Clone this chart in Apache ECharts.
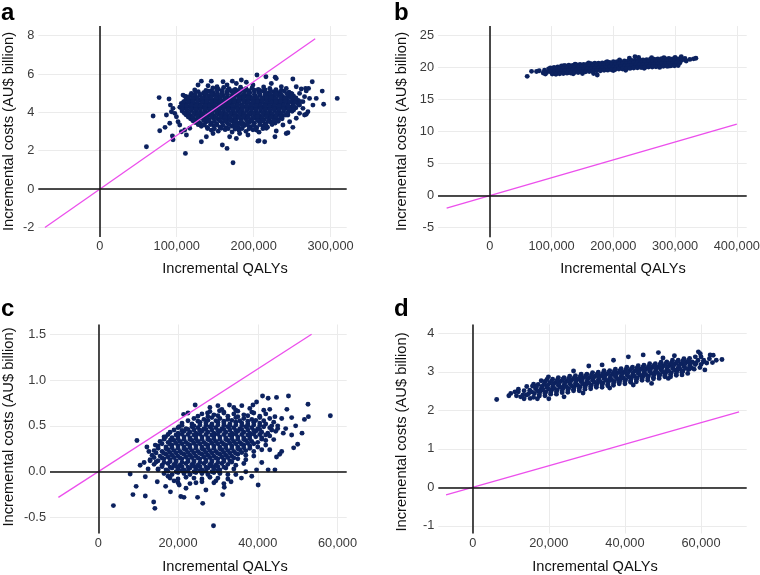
<!DOCTYPE html>
<html><head><meta charset="utf-8">
<script src="https://cdn.jsdelivr.net/npm/echarts@6/dist/echarts.min.js"></script>
<style>html,body{margin:0;padding:0;background:#fff}#c{width:760px;height:575px}</style>
</head><body><div id="c"></div>
<script>
// Incremental QALYs in thousands, incremental costs in AU$ billion
const aFringe = [[60.6,2.21],[69.3,3.81],[77.1,4.77],[77.9,3.04],[84.8,3.22],[90,4.7],[91.8,4.38],[94.4,2.77],[95.2,2.57],[111.3,1.86],[110.4,4.85],[132,5.63],[145,5.63],[159.3,2.3],[165.4,2.12],[173.2,1.37],[204.3,5.95],[229.4,5.77],[251,5.74],[276.2,5.6],[289.2,5.11],[291,4.42],[308.7,4.73],[216,5.86],[228,5.83],[267.5,5.25],[268.4,3.9],[251,3.22],[244.6,2.94],[227.7,2.73],[207,2.52],[214.3,2.47],[177.5,2.64],
[160.2,5.6],[172.3,5.63],[184,5.69],[152.4,5.34],[165.4,5.43],[177.5,5.51],[190.5,5.57],[199.1,5.43],[223,5.51],[236,5.34],[242.4,5.25],[255.4,5.34],[261.9,5.22],[268.4,5.12],[271.4,5.25],[259.7,4.99],[266.2,4.82],[272.7,4.73],[123.4,5.17],[127.7,5.43],[140.7,5.39],[108.2,4.9],[112.6,4.82],[119,4.99],
[93.1,4.03],[86.6,3.86],[95.2,4.21],[97.4,3.95],[99.6,3.77],[90.9,3.43],[101.7,3.51],[103.9,3.34],[106.1,2.99],[110.4,3.08],[112.6,2.82],[116.9,3.17],
[132,2.47],[138.5,2.73],[147.2,2.9],[168.8,2.73],[181.8,2.9],[192.6,2.82],[205.6,2.5],[203.5,3.08],[216.5,3.17],[229.4,3.03],[242.4,2.9],[238.1,3.34],[246.8,3.51],[255.4,3.69],[264.1,4.21],[259.7,3.95],[244.6,3.86],
[277.1,4.38],[270.6,4.03],[266.2,3.86],[259.7,4.38],[255.4,4.56],[281.4,4.73],[249,4.99],[264.1,4.56]];
const aCore = [[147,5.28],[154,5.21],[161,5.3],[168,5.24],[176,5.19],[183,5.31],[190,5.23],[198,5.27],[206,5.2],[213,5.32],[221,5.25],[229,5.18],
[128,5.08],[135,5.02],[141,5.1],[147,5.04],[153,5.0],[159,5.09],[165,5.03],[171,5.1],[177,5.01],[183,5.07],[189,5.12],[195,5.02],[201,5.08],[207,5.04],[213,5.1],[219,5.0],[226,5.07],[233,5.03],[240,5.11],[246,5.05],
[118,4.88],[124,4.83],[130,4.9],[136,4.82],[142,4.87],[148,4.92],[154,4.84],[160,4.89],[166,4.81],[172,4.86],[178,4.91],[184,4.83],[190,4.88],[196,4.8],[202,4.86],[208,4.9],[214,4.82],[220,4.87],[226,4.84],[232,4.89],[238,4.81],[245,4.86],[252,4.84],
[112,4.68],[118,4.62],[124,4.7],[130,4.64],[136,4.6],[142,4.69],[148,4.63],[154,4.67],[160,4.61],[166,4.7],[172,4.64],[178,4.6],[184,4.68],[190,4.62],[196,4.7],[202,4.65],[208,4.61],[214,4.69],[220,4.63],[226,4.67],[232,4.6],[238,4.68],[244,4.64],[251,4.66],[258,4.62],
[106,4.47],[112,4.42],[118,4.5],[124,4.44],[130,4.4],[136,4.48],[142,4.43],[148,4.51],[154,4.45],[160,4.41],[166,4.49],[172,4.43],[178,4.47],[184,4.4],[190,4.5],[196,4.44],[202,4.42],[208,4.48],[214,4.45],[220,4.41],[226,4.49],[232,4.43],[238,4.47],[244,4.42],[251,4.48],[258,4.44],
[104,4.27],[110,4.22],[116,4.3],[122,4.24],[128,4.2],[134,4.28],[140,4.23],[146,4.31],[152,4.25],[158,4.21],[164,4.29],[170,4.23],[176,4.27],[182,4.2],[188,4.3],[194,4.24],[200,4.22],[206,4.28],[212,4.25],[218,4.21],[224,4.29],[230,4.23],[236,4.27],[242,4.22],[248,4.28],[255,4.24],
[107,4.07],[113,4.02],[119,4.1],[125,4.04],[131,4.0],[137,4.08],[143,4.03],[149,4.11],[155,4.05],[161,4.01],[167,4.09],[173,4.03],[179,4.07],[185,4.0],[191,4.1],[197,4.04],[203,4.02],[209,4.08],[215,4.05],[221,4.01],[227,4.09],[233,4.03],[239,4.07],[245,4.02],[250,4.06],
[112,3.87],[118,3.82],[124,3.9],[130,3.84],[136,3.8],[142,3.88],[148,3.83],[154,3.91],[160,3.85],[166,3.81],[172,3.89],[178,3.83],[184,3.87],[190,3.8],[196,3.9],[202,3.84],[208,3.82],[214,3.88],[220,3.85],[226,3.81],[232,3.89],[238,3.83],[242,3.86],
[118,3.67],[124,3.62],[130,3.7],[136,3.64],[142,3.6],[148,3.68],[154,3.63],[160,3.71],[166,3.65],[172,3.61],[178,3.69],[184,3.63],[190,3.67],[196,3.6],[202,3.7],[208,3.64],[214,3.62],[220,3.68],[226,3.65],[232,3.61],[237,3.67],
[124,3.47],[131,3.42],[138,3.5],[145,3.44],[152,3.4],[159,3.48],[166,3.43],[173,3.51],[180,3.45],[187,3.41],[194,3.49],[201,3.43],[208,3.47],[215,3.4],[222,3.5],[228,3.44],
[132,3.27],[140,3.22],[148,3.3],[156,3.24],[164,3.2],[172,3.28],[180,3.23],[188,3.31],[196,3.25],[204,3.21],[212,3.29],[218,3.23],
[145,3.07],[154,3.02],[163,3.1],[172,2.98],[181,3.06],[190,3.01],[199,3.09],[207,2.97]];
const aCoreInner = [[138,5.15],[145,5.13],[152,5.17],[159,5.14],[166,5.16],[173,5.13],[180,5.15],[187,5.17],[194,5.13],[201,5.16],[208,5.14],[215,5.17],[222,5.13],[229,5.15],[236,5.14],
[124,4.96],[131,4.94],[138,4.97],[145,4.95],[152,4.93],[159,4.96],[166,4.94],[173,4.97],[180,4.95],[187,4.93],[194,4.96],[201,4.94],[208,4.97],[215,4.95],[222,4.93],[229,4.96],[236,4.94],[243,4.97],[250,4.95],
[115,4.76],[121,4.74],[127,4.77],[133,4.75],[139,4.73],[145,4.76],[151,4.74],[157,4.77],[163,4.75],[169,4.73],[175,4.76],[181,4.74],[187,4.77],[193,4.75],[199,4.73],[205,4.76],[211,4.74],[217,4.77],[223,4.75],[229,4.73],[235,4.76],[241,4.74],[248,4.77],[255,4.75],
[109,4.56],[115,4.54],[121,4.57],[127,4.55],[133,4.53],[139,4.56],[145,4.54],[151,4.57],[157,4.55],[163,4.53],[169,4.56],[175,4.54],[181,4.57],[187,4.55],[193,4.53],[199,4.56],[205,4.54],[211,4.57],[217,4.55],[223,4.53],[229,4.56],[235,4.54],[241,4.57],[247,4.55],[254,4.53],[261,4.56],
[107,4.36],[113,4.34],[119,4.37],[125,4.35],[131,4.33],[137,4.36],[143,4.34],[149,4.37],[155,4.35],[161,4.33],[167,4.36],[173,4.34],[179,4.37],[185,4.35],[191,4.33],[197,4.36],[203,4.34],[209,4.37],[215,4.35],[221,4.33],[227,4.36],[233,4.34],[239,4.37],[245,4.35],[252,4.33],
[107,4.16],[113,4.14],[119,4.17],[125,4.15],[131,4.13],[137,4.16],[143,4.14],[149,4.17],[155,4.15],[161,4.13],[167,4.16],[173,4.14],[179,4.17],[185,4.15],[191,4.13],[197,4.16],[203,4.14],[209,4.17],[215,4.15],[221,4.13],[227,4.16],[233,4.14],[239,4.17],[246,4.15],[252,4.13],
[110,3.96],[116,3.94],[122,3.97],[128,3.95],[134,3.93],[140,3.96],[146,3.94],[152,3.97],[158,3.95],[164,3.93],[170,3.96],[176,3.94],[182,3.97],[188,3.95],[194,3.93],[200,3.96],[206,3.94],[212,3.97],[218,3.95],[224,3.93],[230,3.96],[236,3.94],[244,3.97],
[115,3.76],[121,3.74],[127,3.77],[133,3.75],[139,3.73],[145,3.76],[151,3.74],[157,3.77],[163,3.75],[169,3.73],[175,3.76],[181,3.74],[187,3.77],[193,3.75],[199,3.73],[205,3.76],[211,3.74],[217,3.77],[223,3.75],[229,3.73],[235,3.76],
[121,3.56],[128,3.54],[135,3.57],[142,3.55],[149,3.53],[156,3.56],[163,3.54],[170,3.57],[177,3.55],[184,3.53],[191,3.56],[198,3.54],[205,3.57],[212,3.55],[219,3.53],[226,3.56],[232,3.54],
[128,3.36],[136,3.34],[144,3.37],[152,3.35],[160,3.33],[168,3.36],[176,3.34],[184,3.37],[192,3.35],[200,3.33],[208,3.36],[216,3.34],[224,3.37],
[140,3.16],[149,3.14],[158,3.17],[167,3.15],[176,3.13],[185,3.16],[194,3.14],[203,3.17],[212,3.15]];

const bFringe = [[60.5,18.65],[67.5,19.43],[75.6,19.4],[79.9,19.52],[86.4,19.17],[88.5,19.6],[92,19.25],[95,19.8],[90,19.0],[174,18.85],[168,19.1],[150,19.1],[135,19.05],[120,20.3],[138,20.55],[160,20.75],[190,20.95],[210,21.2],[235,21.72],[241,21.6],[226,21.5],[262,21.55],[282,21.58],[300,21.6],[310,21.72],[316,21.45],[318,21.05],[324,21.3],[330,21.38],[333.7,21.48],[250,19.9],[220,19.6],[275,20.05],[290,20.25],[200,19.55]];
const bCore = [[98,19.95],[104,20.02],[110,20.12],[116,20.26],[122,20.32],[128,20.39],[134,20.36],[140,20.46],[146,20.5],[152,20.52],[158,20.6],[164,20.61],[170,20.69],[176,20.7],[182,20.76],[188,20.83],[194,20.83],[200,20.92],[206,20.93],[212,20.97],[218,21.05],[224,21.06],[230,21.13],[236,21.15],[242,21.22],[248,21.22],[254,21.26],[260,21.32],[266,21.31],[272,21.38],[278,21.4],[284,21.41],[290,21.44],[296,21.38],[302,21.4],[308,21.42],
[101,19.78],[107,19.8],[113,19.86],[119,19.9],[125,19.93],[131,20.0],[137,20.02],[143,20.08],[149,20.1],[155,20.17],[161,20.2],[167,20.24],[173,20.31],[179,20.33],[185,20.4],[191,20.42],[197,20.49],[203,20.51],[209,20.58],[215,20.6],[221,20.67],[227,20.69],[233,20.76],[239,20.79],[245,20.84],[251,20.85],[257,20.9],[263,20.91],[269,20.96],[275,20.97],[281,21.02],[287,21.03],[293,21.08],[299,21.09],[305,21.15],[311,21.18],
[98,19.35],[104,19.36],[110,19.43],[116,19.46],[122,19.53],[128,19.55],[134,19.61],[140,19.64],[146,19.71],[152,19.73],[158,19.79],[164,19.82],[170,19.88],[176,19.91],[182,19.97],[188,20.0],[194,20.06],[200,20.09],[206,20.15],[212,20.18],[218,20.24],[224,20.27],[230,20.33],[236,20.36],[242,20.42],[248,20.43],[254,20.48],[260,20.49],[266,20.54],[272,20.55],[278,20.61],[284,20.62],[290,20.67],[296,20.68],[302,20.73],[308,20.76],
[101,19.0],[107,18.98],[113,19.06],[119,19.08],[125,19.15],[131,19.17],[137,19.24],[143,19.26],[149,19.33],[155,19.35],[161,19.41],[167,19.44],[173,19.51],[179,19.53],[185,19.6],[191,19.62],[197,19.69],[203,19.71],[209,19.78],[215,19.8],[221,19.87],[227,19.89],[233,19.96],[239,19.99],[245,20.04],[251,20.05],[257,20.1],[263,20.11],[269,20.16],[275,20.17],[281,20.22],[287,20.23],[293,20.28],[299,20.29],[305,20.35]];

const cFringe = [[9.7,0.34],[12.2,0.27],[12.7,0.22],[14.3,0.29],[16.9,0.38],[18.1,0.345],[20.3,0.49],[21.4,0.625],[22.5,0.64],[24.3,0.727],[27.4,0.64],[30,0.72],[30.4,0.665],[32.9,0.727],[38.8,0.727],[39.7,0.76],[41.2,0.825],[42.6,0.8],[44.7,0.81],[47.7,0.825],[47.3,0.68],[48.5,0.59],[49.5,0.5],[51.1,0.42],[50,0.3],[51.7,0.57],[52.6,0.735],[58.2,0.61],[52.7,0.6],[46.4,0.42],[44.3,0.6],[46,0.22],[44.7,0.16],[45.5,0.19],[44.3,0.02],[42.6,0.02],[39.7,0.02],[40.1,-0.145],[35.9,-0.07],[33.3,-0.11],[31.6,-0.17],[31.2,-0.25],[28.9,-0.59],[26.2,-0.345],[24.9,-0.28],[21.5,-0.28],[20.7,-0.27],[20.3,-0.145],[18.1,-0.22],[16.9,-0.16],[14.8,-0.11],[13.9,-0.33],[14.2,-0.4],[11.8,-0.265],[8.7,-0.25],[9.5,-0.16],[8,-0.025],[3.8,-0.37],[11.8,-0.055],[12.5,0.03],[11.5,0.1],[13,0.12],[45,0.5],[46,0.58],[43,0.68],[47,0.47],[48.5,0.4],[49,0.26],[44,0.35],[36,0.72],[34,0.7],[28,0.7],[25.5,0.45],[17.5,-0.05],[19,-0.1],[22,-0.18],[24.5,-0.12],[27,-0.2],[29.5,-0.1],[34.5,-0.03],[37,0.0],[38.5,-0.05],[41,0.1],[43,0.24],[15,0.02],[10.5,0.07]];
const cCore = [[31,0.68],[34.5,0.67],[38,0.69],[41.5,0.67],
[26,0.63],[29,0.62],[31.5,0.64],[34,0.63],[36.5,0.62],[39,0.64],[42,0.63],
[24,0.58],[26.5,0.57],[28.5,0.59],[30.5,0.58],[32.5,0.57],[34.5,0.59],[36.5,0.58],[38.5,0.57],[40.5,0.59],[43,0.58],
[21,0.53],[23.5,0.52],[25.5,0.54],[27,0.53],[28.5,0.52],[30,0.54],[31.5,0.53],[33,0.52],[34.5,0.54],[36,0.53],[37.5,0.52],[39,0.54],[40.5,0.53],[42,0.52],[44,0.54],
[20,0.48],[22,0.47],[23.5,0.49],[25,0.48],[26.5,0.47],[28,0.49],[29.5,0.48],[31,0.47],[32.5,0.49],[34,0.48],[35.5,0.47],[37,0.49],[38.5,0.48],[40,0.47],[41.5,0.49],[43,0.48],[45,0.47],
[18,0.43],[20,0.42],[21.5,0.44],[23,0.43],[24.5,0.42],[26,0.44],[27.5,0.43],[29,0.42],[30.5,0.44],[32,0.43],[33.5,0.42],[35,0.44],[36.5,0.43],[38,0.42],[39.5,0.44],[41,0.43],[42.5,0.42],[44.5,0.44],
[16.5,0.38],[18.5,0.37],[20,0.39],[21.5,0.38],[23,0.37],[24.5,0.39],[26,0.38],[27.5,0.37],[29,0.39],[30.5,0.38],[32,0.37],[33.5,0.39],[35,0.38],[36.5,0.37],[38,0.39],[39.5,0.38],[41,0.37],[43,0.39],
[15.5,0.33],[17.5,0.32],[19,0.34],[20.5,0.33],[22,0.32],[23.5,0.34],[25,0.33],[26.5,0.32],[28,0.34],[29.5,0.33],[31,0.32],[32.5,0.34],[34,0.33],[35.5,0.32],[37,0.34],[38.5,0.33],[40,0.32],[42,0.34],
[15,0.28],[17,0.27],[18.5,0.29],[20,0.28],[21.5,0.27],[23,0.29],[24.5,0.28],[26,0.27],[27.5,0.29],[29,0.28],[30.5,0.27],[32,0.29],[33.5,0.28],[35,0.27],[36.5,0.29],[38,0.28],[40,0.27],[42,0.29],
[14,0.23],[16,0.22],[17.5,0.24],[19,0.23],[20.5,0.22],[22,0.24],[23.5,0.23],[25,0.22],[26.5,0.24],[28,0.23],[29.5,0.22],[31,0.24],[32.5,0.23],[34,0.22],[35.5,0.24],[37,0.23],[39,0.22],[41,0.24],
[13.5,0.18],[15.5,0.17],[17,0.19],[18.5,0.18],[20,0.17],[21.5,0.19],[23,0.18],[24.5,0.17],[26,0.19],[27.5,0.18],[29,0.17],[30.5,0.19],[32,0.18],[33.5,0.17],[35,0.19],[37,0.18],[39,0.17],
[13,0.13],[15,0.12],[16.5,0.14],[18,0.13],[19.5,0.12],[21,0.14],[22.5,0.13],[24,0.12],[25.5,0.14],[27,0.13],[28.5,0.12],[30,0.14],[31.5,0.13],[33,0.12],[35,0.14],[37,0.13],
[14,0.08],[16,0.07],[17.5,0.09],[19,0.08],[20.5,0.07],[22,0.09],[23.5,0.08],[25,0.07],[26.5,0.09],[28,0.08],[29.5,0.07],[31,0.09],[32.5,0.08],[34.5,0.07],[36.5,0.09],
[15,0.03],[17,0.02],[18.5,0.04],[20,0.03],[21.5,0.02],[23,0.04],[24.5,0.03],[26,0.02],[27.5,0.04],[29,0.03],[30.5,0.02],[32,0.04],[34,0.03],
[16.5,-0.02],[18.5,-0.03],[20,-0.01],[21.5,-0.02],[23,-0.03],[24.5,-0.01],[26,-0.02],[27.5,-0.03],[29,-0.01],[30.5,-0.02],[32.5,-0.03],
[18,-0.07],[20,-0.08],[22,-0.06],[24,-0.07],[26,-0.08],[28,-0.06],[30,-0.07],[32.5,-0.08],
[20,-0.12],[23,-0.13],[26,-0.11],[29,-0.12],[31.5,-0.13]];
const cCoreInner = [[28,0.655],[31.5,0.65],[35,0.66],[38.5,0.65],
[25,0.605],[27.5,0.6],[30,0.61],[32.5,0.605],[35,0.6],[37.5,0.61],[40.5,0.605],
[22.5,0.555],[25,0.55],[27.5,0.56],[29.5,0.555],[31.5,0.55],[33.5,0.56],[35.5,0.555],[37.5,0.55],[39.5,0.56],[41.5,0.555],
[21,0.505],[24,0.5],[25.5,0.51],[27,0.505],[28.5,0.5],[30,0.51],[31.5,0.505],[33,0.5],[34.5,0.51],[36,0.505],[37.5,0.5],[39,0.51],[40.5,0.505],[43.5,0.5],
[19,0.455],[21,0.45],[22.5,0.46],[24,0.455],[25.5,0.45],[27,0.46],[28.5,0.455],[30,0.45],[31.5,0.46],[33,0.455],[34.5,0.45],[36,0.46],[37.5,0.455],[39,0.45],[40.5,0.46],[43.5,0.455],
[17.5,0.405],[19.5,0.4],[21,0.41],[22.5,0.405],[24,0.4],[25.5,0.41],[27,0.405],[28.5,0.4],[30,0.41],[31.5,0.405],[33,0.4],[34.5,0.41],[36,0.405],[37.5,0.4],[39,0.41],[40.5,0.405],[42,0.4],
[16.5,0.355],[18.5,0.35],[20,0.36],[21.5,0.355],[23,0.35],[24.5,0.36],[26,0.355],[27.5,0.35],[29,0.36],[30.5,0.355],[32,0.35],[33.5,0.36],[35,0.355],[36.5,0.35],[38,0.36],[41,0.355],
[16,0.305],[18,0.3],[19.5,0.31],[21,0.305],[22.5,0.3],[24,0.31],[25.5,0.305],[27,0.3],[28.5,0.31],[30,0.305],[31.5,0.3],[33,0.31],[34.5,0.305],[36,0.3],[37.5,0.31],[39,0.305],
[15,0.255],[17,0.25],[18.5,0.26],[20,0.255],[21.5,0.25],[23,0.26],[24.5,0.255],[26,0.25],[27.5,0.26],[29,0.255],[30.5,0.25],[32,0.26],[33.5,0.255],[35,0.25],[36.5,0.26],[38,0.255],
[14.5,0.205],[16.5,0.2],[18,0.21],[19.5,0.205],[21,0.2],[22.5,0.21],[24,0.205],[25.5,0.2],[27,0.21],[28.5,0.205],[30,0.2],[31.5,0.21],[33,0.205],[34.5,0.2],[36,0.21],
[14,0.155],[16,0.15],[17.5,0.16],[19,0.155],[20.5,0.15],[22,0.16],[23.5,0.155],[25,0.15],[26.5,0.16],[28,0.155],[29.5,0.15],[31,0.16],[32.5,0.155],[34,0.15],
[14.5,0.105],[16.5,0.1],[18,0.11],[19.5,0.105],[21,0.1],[22.5,0.11],[24,0.105],[25.5,0.1],[27,0.11],[28.5,0.105],[30,0.1],[31.5,0.11],[33.5,0.105],
[16,0.055],[18,0.05],[19.5,0.06],[21,0.055],[22.5,0.05],[24,0.06],[25.5,0.055],[27,0.05],[28.5,0.06],[30,0.055],[31.5,0.05],
[17.5,0.005],[19.5,0.0],[21,0.01],[22.5,0.005],[24,0.0],[25.5,0.01],[27,0.005],[28.5,0.0],[30,0.01]];

const dFringe = [[6.3,2.28],[10,2.44],[11.1,2.48],[12,2.55],[12.6,2.35],[14.2,2.4],[15.1,2.31],[9.5,2.38],[11.5,2.38],[13.5,2.3],[17,2.3],[20,2.3],[24,2.35],[62.4,3.44],[59.3,3.52],[59.8,3.47],[58.4,3.22],[60.6,3.26],[65.5,3.32],[63.2,3.43],[48.8,3.5],[40.9,3.39],[51.4,2.83],[44.8,3.44],[42.2,2.66],[37,3.3],[30.5,3.15],[26.5,3.02],[19.9,2.87],[55,2.98],[57,3.08],[61,3.05],[64,3.3],[53,3.42],[47,2.7],[36,2.58],[29,2.45],[19,2.75],[16,2.68],[34,3.18],[50,3.36]];
const dCore = [[12,2.48],[13.5,2.51],[15,2.52],[16.5,2.56],[18,2.56],[19.5,2.6],[21,2.61],[22.5,2.65],[24,2.65],[25.5,2.69],[27,2.7],[28.5,2.74],[30,2.74],[31.5,2.78],[33,2.79],[34.5,2.83],[36,2.83],[37.5,2.87],[39,2.88],[40.5,2.92],[42,2.92],[43.5,2.96],[45,2.97],[46.5,3.01],[48,3.01],[49.5,3.05],[51,3.06],[52.5,3.1],[54,3.1],[55.5,3.14],[57,3.15],[58.5,3.19],[60,3.19],[61.5,3.23],[63,3.24],
[14.2,2.62],[15.7,2.63],[17.2,2.67],[18.7,2.67],[20.2,2.71],[21.7,2.72],[23.2,2.76],[24.7,2.76],[26.2,2.8],[27.7,2.81],[29.2,2.85],[30.7,2.85],[32.2,2.89],[33.7,2.9],[35.2,2.94],[36.7,2.94],[38.2,2.98],[39.7,2.99],[41.2,3.03],[42.7,3.03],[44.2,3.07],[45.7,3.08],[47.2,3.12],[48.7,3.12],[50.2,3.16],[51.7,3.17],[53.2,3.21],[54.7,3.21],[56.2,3.25],[57.7,3.26],[59.2,3.3],[60.7,3.3],[62.2,3.34],
[18,2.77],[19.5,2.8],[21,2.81],[22.5,2.85],[24,2.85],[25.5,2.89],[27,2.9],[28.5,2.94],[30,2.94],[31.5,2.98],[33,2.99],[34.5,3.03],[36,3.03],[37.5,3.07],[39,3.08],[40.5,3.12],[42,3.12],[43.5,3.16],[45,3.17],[46.5,3.21],[48,3.21],[49.5,3.25],[51,3.26],[52.5,3.3],[54,3.3],[55.5,3.34],[57,3.35],[58.5,3.39],[60,3.39],
[13.2,2.4],[14.7,2.43],[16.2,2.44],[17.7,2.48],[19.2,2.48],[20.7,2.52],[22.2,2.53],[23.7,2.57],[25.2,2.57],[26.7,2.61],[28.2,2.62],[29.7,2.66],[31.2,2.66],[32.7,2.7],[34.2,2.71],[35.7,2.75],[37.2,2.75],[38.7,2.79],[40.2,2.8],[41.7,2.84],[43.2,2.84],[44.7,2.88],[46.2,2.89],[47.7,2.93],[49.2,2.93],[50.7,2.97],[52.2,2.98],[53.7,3.02],[55.2,3.02],[56.7,3.06],[58.2,3.07],[59.7,3.11],
[16,2.34],[17.5,2.37],[19,2.38],[20.5,2.42],[22,2.42],[23.5,2.46],[25,2.47],[26.5,2.51],[28,2.51],[29.5,2.55],[31,2.56],[32.5,2.6],[34,2.6],[35.5,2.64],[37,2.65],[38.5,2.69],[40,2.69],[41.5,2.73],[43,2.74],[44.5,2.78],[46,2.78],[47.5,2.82],[49,2.83],[50.5,2.87],[52,2.87],[53.5,2.91],[55,2.92],[56.5,2.96]];
const dCoreInner = [[16.7,2.6],[18.2,2.62],[19.7,2.65],[21.2,2.67],[22.7,2.69],[24.2,2.71],[25.7,2.74],[27.2,2.76],[28.7,2.78],[30.2,2.8],[31.7,2.83],[33.2,2.85],[34.7,2.87],[36.2,2.89],[37.7,2.92],[39.2,2.94],[40.7,2.96],[42.2,2.98],[43.7,3.01],[45.2,3.03],[46.7,3.05],[48.2,3.07],[49.7,3.1],[51.2,3.12],[52.7,3.14],[54.2,3.16],[55.7,3.19],[57.2,3.21],[58.7,3.23],
[15.5,2.48],[17,2.51],[18.5,2.53],[20,2.55],[21.5,2.57],[23,2.6],[24.5,2.62],[26,2.64],[27.5,2.66],[29,2.69],[30.5,2.71],[32,2.73],[33.5,2.75],[35,2.78],[36.5,2.8],[38,2.82],[39.5,2.84],[41,2.87],[42.5,2.89],[44,2.91],[45.5,2.93],[47,2.96],[48.5,2.98],[50,3.0],[51.5,3.02],[53,3.05],[54.5,3.07],[56,3.09],[57.5,3.11],
[20.7,2.76],[22.2,2.78],[23.7,2.81],[25.2,2.83],[26.7,2.85],[28.2,2.87],[29.7,2.9],[31.2,2.92],[32.7,2.94],[34.2,2.96],[35.7,2.99],[37.2,3.01],[38.7,3.03],[40.2,3.05],[41.7,3.08],[43.2,3.1],[44.7,3.12],[46.2,3.14],[47.7,3.17],[49.2,3.19],[50.7,3.21],[52.2,3.23],[53.7,3.26],[55.2,3.28],[56.7,3.3],
[17.5,2.41],[19,2.44],[20.5,2.46],[22,2.48],[23.5,2.5],[25,2.53],[26.5,2.55],[28,2.57],[29.5,2.59],[31,2.62],[32.5,2.64],[34,2.66],[35.5,2.68],[37,2.71],[38.5,2.73],[40,2.75],[41.5,2.77],[43,2.8],[44.5,2.82],[46,2.84],[47.5,2.86],[49,2.89],[50.5,2.91],[52,2.93],[53.5,2.95],[55,2.98]];

// Willingness-to-pay threshold line endpoints
const aThreshold = [[-71.4,-2],[280,7.84]];
const bThreshold = [[-70,-1.96],[400,11.2]];
const cThreshold = [[-10,-0.28],[53.5,1.498]];
const dThreshold = [[-7,-0.196],[70,1.96]];

// Tick values
const aXTicks = [0,100,200,300], aYTicks = [-2,0,2,4,6,8];
const bXTicks = [0,100,200,300,400], bYTicks = [-5,0,5,10,15,20,25];
const cXTicks = [0,20,40,60], cYTicks = [-0.5,0,0.5,1,1.5];
const dXTicks = [0,20,40,60], dYTicks = [-1,0,1,2,3,4];

const panelLabels = ['a','b','c','d'];
const xTitle = 'Incremental QALYs';
const yTitle = 'Incremental costs (AU$ billion)';

const FONT = '"Liberation Sans", Arial, Helvetica, sans-serif';
const NAVY = '#0c225f';
const MAGENTA = '#ec4fec';

const panels = [
  {pts: aFringe.concat(aCore, aCoreInner), line: aThreshold, xt: aXTicks, yt: aYTicks, xr: [-80, 321], yr: [-2.5, 8.5], yDec: 0,
   grid: {left: 38.3, top: 26.1, width: 308.4, height: 210.9}, lab: [1, 13], xT: [225, 268.5], yT: [9, 131.5]},
  {pts: bFringe.concat(bCore), line: bThreshold, xt: bXTicks, yt: bYTicks, xr: [-84, 416], yr: [-6.5, 26.5], yDec: 0,
   grid: {left: 438, top: 26.1, width: 308.7, height: 211.2}, lab: [394, 13], xT: [623, 268.5], yT: [402, 131.5]},
  {pts: cFringe.concat(cCore, cCoreInner), line: cThreshold, xt: cXTicks, yt: cYTicks, xr: [-12.1, 62.3], yr: [-0.674, 1.605], yDec: 1,
   grid: {left: 50, top: 324.5, width: 296.7, height: 209}, lab: [1, 309.5], xT: [225, 566.5], yT: [9, 427]},
  {pts: dFringe.concat(dCore, dCoreInner), line: dThreshold, xt: dXTicks, yt: dYTicks, xr: [-9.04, 72.0], yr: [-1.2, 4.23], yDec: 0,
   grid: {left: 438.3, top: 324.5, width: 308.4, height: 209}, lab: [394, 309.5], xT: [595, 567], yT: [402, 432]}
];

const grids = [], xAxes = [], yAxes = [], series = [], graphics = [];
panels.forEach((p, i) => {
  grids.push(Object.assign({outerBoundsMode: 'none', containLabel: false}, p.grid));
  const common = {
    type: 'value', gridIndex: i, scale: false,
    axisLine: {show: false},
    splitLine: {show: true, lineStyle: {color: '#ebebeb', width: 1}},
    minorSplitLine: {show: false}
  };
  xAxes.push(Object.assign({}, common, {
    min: p.xr[0], max: p.xr[1],
    axisTick: {show: false, customValues: p.xt},
    axisLabel: {customValues: p.xt, color: '#3b3b3b', fontSize: 12.8, fontFamily: FONT, margin: 3,
      formatter: v => (Math.round(v * 1000)).toLocaleString('en-US')}
  }));
  yAxes.push(Object.assign({}, common, {
    min: p.yr[0], max: p.yr[1],
    axisTick: {show: false, customValues: p.yt},
    axisLabel: {customValues: p.yt, color: '#3b3b3b', fontSize: 12.8, fontFamily: FONT, margin: 4,
      formatter: v => v.toFixed(p.yDec)}
  }));
  series.push({
    type: 'scatter', xAxisIndex: i, yAxisIndex: i, data: p.pts,
    symbol: 'circle', symbolSize: 4.9, itemStyle: {color: NAVY, opacity: 1},
    silent: true, animation: false, z: 2,
    markLine: {silent: true, symbol: ['none', 'none'], label: {show: false}, animation: false,
      lineStyle: {color: '#111', width: 1.5, type: 'solid'},
      emphasis: {disabled: true},
      data: [{xAxis: 0}, {yAxis: 0}]}
  });
  series.push({
    type: 'line', xAxisIndex: i, yAxisIndex: i, data: p.line,
    symbol: 'none', showSymbol: false, silent: true, animation: false, z: 4,
    lineStyle: {color: MAGENTA, width: 1.3}
  });
  graphics.push({type: 'text', x: p.lab[0], y: p.lab[1],
    style: {text: panelLabels[i], font: 'bold 24px ' + FONT, fill: '#000', textAlign: 'left', textVerticalAlign: 'middle', align: 'left', verticalAlign: 'middle'}});
  graphics.push({type: 'text', x: p.xT[0], y: p.xT[1],
    style: {text: xTitle, font: '14.6px ' + FONT, fill: '#111', textAlign: 'center', textVerticalAlign: 'middle', align: 'center', verticalAlign: 'middle'}});
  graphics.push({type: 'text', x: p.yT[0], y: p.yT[1], rotation: Math.PI / 2,
    style: {text: yTitle, font: '14.7px ' + FONT, fill: '#111', textAlign: 'center', textVerticalAlign: 'middle', align: 'center', verticalAlign: 'middle'}});
});

const chart = echarts.init(document.getElementById('c'), null, {renderer: 'canvas'});
chart.setOption({
  animation: false,
  backgroundColor: '#fff',
  textStyle: {fontFamily: FONT},
  grid: grids, xAxis: xAxes, yAxis: yAxes, series: series, graphic: graphics
});
</script></body></html>
